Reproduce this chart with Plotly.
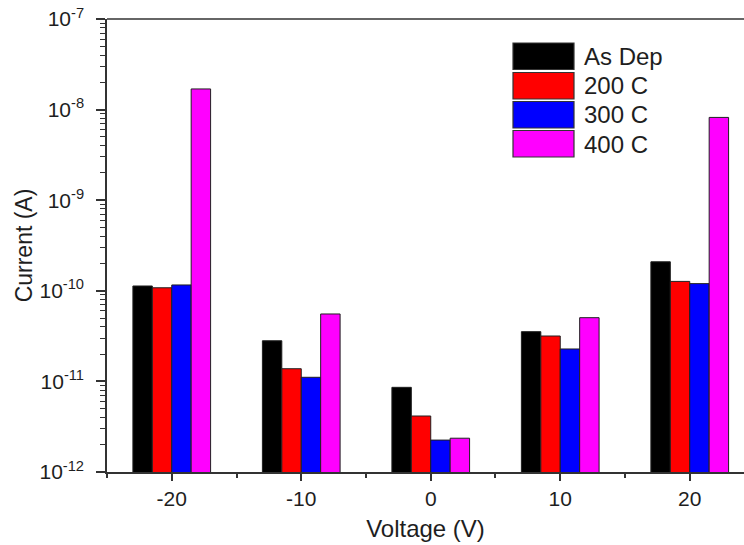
import plotly.graph_objects as go

voltages = [-20, -10, 0, 10, 20]
series_names = ["As Dep", "200 C", "300 C", "400 C"]
series_colors = ["#000000", "#ff0000", "#0000ff", "#ff00ff"]
as_dep = [1.13e-10, 2.81e-11, 8.6e-12, 3.54e-11, 2.09e-10]
c200 = [1.08e-10, 1.38e-11, 4.15e-12, 3.17e-11, 1.27e-10]
c300 = [1.16e-10, 1.11e-11, 2.25e-12, 2.28e-11, 1.20e-10]
c400 = [1.69e-8, 5.55e-11, 2.36e-12, 5.05e-11, 8.2e-9]
series_values = [as_dep, c200, c300, c400]

y_tickvals = [1e-12, 1e-11, 1e-10, 1e-9, 1e-8, 1e-7]
y_ticktext = ["10<sup>-12</sup>", "10<sup>-11</sup>", "10<sup>-10</sup>",
              "10<sup>-9</sup>", "10<sup>-8</sup>", "10<sup>-7</sup>"]
x_ticktext = ["-20", "-10", "0", "10", "20"]

FONT = "Liberation Sans, Arial, sans-serif"
TXT = "#1e1e1e"

fig = go.Figure()
for name, col, vals in zip(series_names, series_colors, series_values):
    fig.add_trace(go.Bar(x=voltages, y=vals, name=name, marker_color=col,
                         marker_line_color="#202020", marker_line_width=1,
                         showlegend=False))

minor_y = []
for e in range(-12, -7):
    for m in range(2, 10):
        minor_y.append(m * 10 ** e)

W, H = 744, 545
L, R, T, B = 107, 0, 19, 73

fig.update_layout(
    width=W, height=H,
    margin=dict(l=L, r=R, t=T, b=B, autoexpand=False),
    paper_bgcolor="white", plot_bgcolor="white",
    barmode="group", bargap=0.4, bargroupgap=0,
    font=dict(family=FONT, color=TXT),
)
fig.update_xaxes(
    range=[-25, 24.19], tickvals=voltages, ticktext=x_ticktext,
    showgrid=False, zeroline=False,
    showline=True, linecolor="#333333", linewidth=1.5,
    ticks="outside", ticklen=7, tickwidth=1.5, tickcolor="#333333",
    tickfont=dict(size=21, family=FONT, color=TXT),
    ticklabelstandoff=0,
    minor=dict(tickvals=[-25, -15, -5, 5, 15], ticks="outside", ticklen=4,
               tickwidth=1.5, tickcolor="#333333"),
    title=dict(text="Voltage (V)", font=dict(size=24, family=FONT, color=TXT),
               standoff=11),
)
fig.update_yaxes(
    type="log", range=[-12, -7], tickvals=y_tickvals, ticktext=y_ticktext,
    showgrid=False, zeroline=False,
    showline=True, linecolor="#333333", linewidth=1.5,
    ticks="outside", ticklen=9, tickwidth=1.5, tickcolor="#333333",
    tickfont=dict(size=21, family=FONT, color=TXT),
    ticklabelstandoff=8,
    minor=dict(tickvals=minor_y, ticks="outside", ticklen=5, tickwidth=1.2,
               tickcolor="#333333"),
    title=dict(text="Current (A)", font=dict(size=23, family=FONT, color=TXT),
               standoff=0),
)

# top frame line
fig.add_shape(type="line", xref="paper", yref="paper", x0=0, x1=1, y0=1, y1=1,
              line=dict(color="#333333", width=1.5))

# manual legend (large swatches like the reference)
pw = W - L - R
ph = H - T - B
def px_x(px):
    return (px - L) / pw
def px_y(py):
    return (H - B - py) / ph

row_top = [43, 72.5, 101.5, 130.5]
for name, col, top in zip(series_names, series_colors, row_top):
    fig.add_shape(type="rect", xref="paper", yref="paper",
                  x0=px_x(513), x1=px_x(574), y0=px_y(top), y1=px_y(top + 26.5),
                  fillcolor=col, line=dict(color="#333333", width=1.2))
    fig.add_annotation(xref="paper", yref="paper", x=px_x(582), y=px_y(top + 13.5),
                       text=name, showarrow=False, xanchor="left", yanchor="middle",
                       font=dict(size=24, family=FONT, color=TXT))

fig.write_html("out.html")
